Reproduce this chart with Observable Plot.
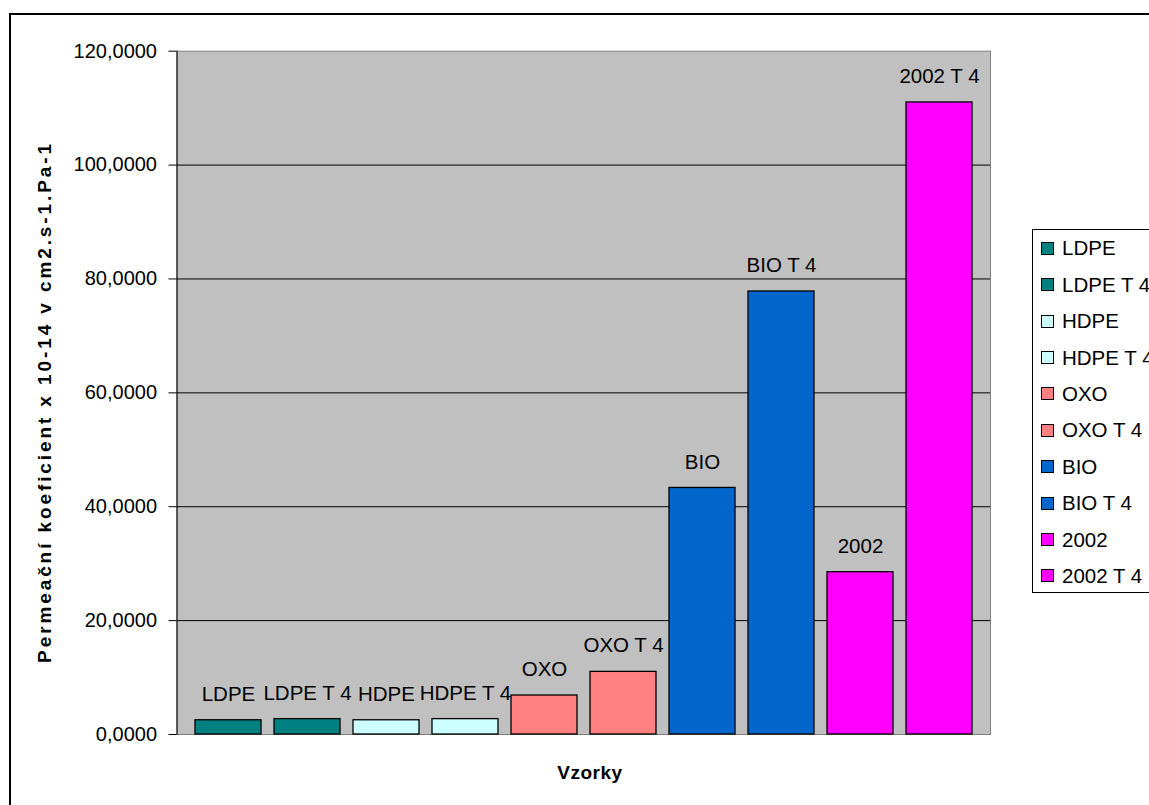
<!DOCTYPE html>
<html>
<head>
<meta charset="utf-8">
<script src="https://cdn.jsdelivr.net/npm/d3@7"></script>
<script src="https://cdn.jsdelivr.net/npm/@observablehq/plot@0.6"></script>
<style>
  html, body { margin: 0; padding: 0; background: #fff; overflow: hidden; width: 1149px; height: 805px; }
  body { position: relative; font-family: "Liberation Sans", Arial, sans-serif; color: #000; }
  #frame { position: absolute; left: 9px; top: 13px; width: 1200px; height: 900px; border-left: 2px solid #000; border-top: 2px solid #000; box-sizing: border-box; }
  #chart { position: absolute; left: 0; top: 0; }
  .ytitle { position: absolute; left: 45px; top: 402px; transform: translate(-50%, -50%) rotate(-90deg); white-space: nowrap; font-weight: bold; font-size: 19px; letter-spacing: 2.9px; }
  .xtitle { position: absolute; left: 590px; top: 773px; transform: translate(-50%, -50%); font-weight: bold; font-size: 19px; letter-spacing: 0.5px; }
  #legend { position: absolute; left: 1032px; top: 229px; width: 140px; height: 364px; border: 1px solid #000; box-sizing: border-box; background: #fff; }
  .row { position: absolute; left: 8px; height: 22px; display: flex; align-items: center; font-size: 20.5px; white-space: nowrap; }
  .sw { width: 13px; height: 13px; border: 1px solid #000; box-sizing: border-box; margin-right: 8px; }
</style>
</head>
<body>
<div id="frame"></div>
<div id="chart"></div>
<div class="ytitle">Permeační koeficient x 10-14 v cm2.s-1.Pa-1</div>
<div class="xtitle">Vzorky</div>
<div id="legend"></div>
<script>
// Samples (one bar each) and their permeation coefficients
const samples = ["LDPE", "LDPE T 4", "HDPE", "HDPE T 4", "OXO", "OXO T 4", "BIO", "BIO T 4", "2002", "2002 T 4"];
const values = [2.5, 2.7, 2.5, 2.7, 6.85, 11.0, 43.3, 77.8, 28.5, 111.0];
const colors = ["#008080", "#008080", "#CCFFFF", "#CCFFFF", "#FF8080", "#FF8080", "#0066CC", "#0066CC", "#FF00FF", "#FF00FF"];
const yTicks = [0, 20, 40, 60, 80, 100, 120];
const gridTicks = [20, 40, 60, 80, 100];

const data = samples.map((s, i) => ({sample: s, value: values[i], color: colors[i]}));
const fmt = d => d.toFixed(4).replace(".", ",");

const chart = Plot.plot({
  width: 1149,
  height: 805,
  marginLeft: 176.5,
  marginRight: 159,
  marginTop: 50.7,
  marginBottom: 71,
  style: {fontFamily: "'Liberation Sans', Arial, sans-serif", fontSize: "20px", color: "#000", background: "transparent"},
  x: {domain: samples, paddingInner: 0.16, paddingOuter: 0.2, axis: null},
  y: {domain: [0, 120], axis: null},
  marks: [
    Plot.frame({fill: "#C0C0C0", stroke: "#808080"}),
    Plot.ruleY(gridTicks, {stroke: "#000", strokeWidth: 1}),
    Plot.frame({anchor: "left", stroke: "#000"}),
    Plot.axisY(yTicks, {tickSize: 8, tickPadding: 12, tickFormat: fmt, fontSize: 20, stroke: "#000", fill: "#000", label: null}),
    Plot.barY(data, {x: "sample", y: "value", fill: "color", stroke: "#000", strokeWidth: 1.3}),
    Plot.text(data, {x: "sample", y: "value", text: "sample", dy: -26, fontSize: 20.5, fill: "#000"})
  ]
});
document.getElementById("chart").appendChild(chart);

// Legend: one entry per sample
const legend = document.getElementById("legend");
samples.forEach((s, i) => {
  const row = document.createElement("div");
  row.className = "row";
  row.style.top = (247.3 - 229 - 11 + i * 36.4) + "px";
  const sw = document.createElement("span");
  sw.className = "sw";
  sw.style.background = colors[i];
  const t = document.createElement("span");
  t.textContent = s;
  row.appendChild(sw);
  row.appendChild(t);
  legend.appendChild(row);
});
</script>
</body>
</html>
